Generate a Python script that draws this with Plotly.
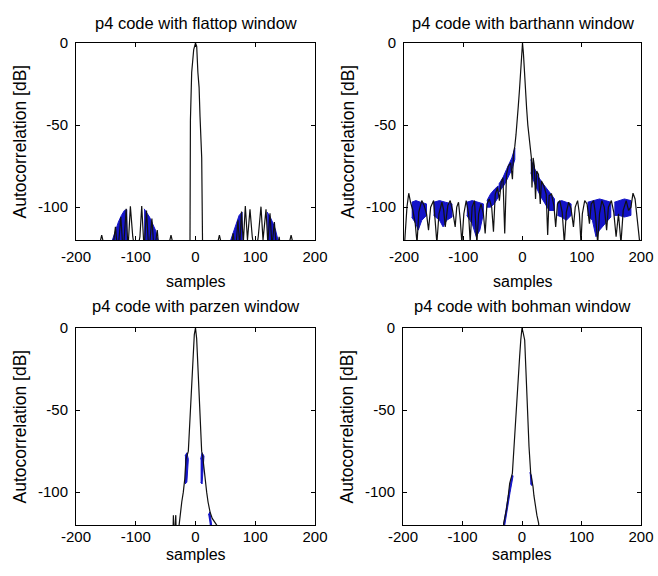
import plotly.graph_objects as go

# ---------------- data ----------------
titles = ["p4 code with flattop window", "p4 code with barthann window",
          "p4 code with parzen window", "p4 code with bohman window"]
x_tick_vals = [-200, -100, 0, 100, 200]
x_tick_text = ["-200", "-100", "0", "100", "200"]
y_tick_vals = [-100, -50, 0]
y_tick_text = ["-100", "-50", "0"]
x_label = "samples"
y_label = "Autocorrelation [dB]"

# flattop
flattop_black_x = [-200, -162, -157, -152, -140, -134, -130, -125, -121, -116, -113, -109, -105, -102, -99.6,
                   -97, -93, -90, -86, -82, -78, -73, -69, -64, -60, -46, -41, -36, -11, -9.2, -8.5, -6.4,
                   -3, 0, 2, 4, 6, 7.6, 9, 10.4, 12, 35, 40, 45, 58, 63, 67, 71, 74, 77, 80, 83.4, 87, 91.2,
                   95, 100, 105, 109.6, 113, 118, 121, 124.7, 128, 132, 136, 140, 144, 155, 160, 165, 200]
flattop_black_y = [-130, -125, -117, -125, -130, -112, -128, -106, -128, -101, -126, -99.5, -118, -126, -130,
                   -126, -118, -99.3, -126, -102, -128, -107, -128, -114, -130, -125, -117, -125, -130, -120,
                   -47, -18, -4, 0, -2, -18, -27, -45, -62, -70, -130, -125, -117, -125, -130, -116, -128, -108,
                   -124, -102.7, -122, -99.3, -120, -101.3, -118, -130, -118, -99.7, -120, -101.3, -122, -103.7,
                   -124, -109, -128, -118, -130, -125, -117, -125, -130]
flattop_blue_x = [-139, -134, -129, -124, -119, -115, -115, -139, None,
                  -86, -82, -77, -72, -67, -63, -86, None,
                  59, 63, 68, 73, 78, 78, None,
                  120, 125, 130, 134, 138, 120]
flattop_blue_y = [-120, -114, -109, -105, -102, -101.5, -120, -120, None,
                  -101, -103, -106, -110, -114, -120, -120, None,
                  -120, -116, -110, -105, -103, -120, None,
                  -103, -106, -110, -114, -120, -120]

# barthann
barthann_black_x = [-200, -199, -195, -192, -189, -185, -181, -178, -175, -170, -166, -162, -158.6, -155, -150,
                    -147, -144.5, -141, -136, -133, -130.4, -126, -122, -118, -113.6, -111, -108, -105, -102.3,
                    -99, -95, -91, -88.3, -85, -81, -79, -77, -74, -70, -66, -63, -60, -56, -52, -49, -46, -42,
                    -39, -36, -33, -30, -27, -24, -20, -17, -15, -13, -11, -9, -7, -5, -3, -1.4, 0,
                    1.5, 3, 5, 7, 9, 11, 13, 15, 16, 18, 20, 22, 24, 27, 30, 32, 36, 40, 42.5, 45, 49, 53, 56,
                    59, 63, 67, 70.6, 74, 78, 82, 86, 89, 93, 96, 98.7, 101, 105, 109, 113, 116, 120, 123,
                    126.9, 130, 134, 138, 142, 145, 150, 154, 158, 162, 166.2, 170, 175, 179, 183, 186.5, 190,
                    194, 198, 200]
barthann_black_y = [-125, -122, -100, -91.5, -97, -102, -110, -122, -103, -96, -99, -104, -114, -100, -96,
                    -108, -122, -104, -97, -102, -112, -99, -96, -102, -112, -100, -97, -108, -122,
                    -104, -96, -104, -121, -100, -96, -110, -122, -104, -98, -104, -116, -98, -95, -100, -115,
                    -92, -88, -96, -85, -82, -116, -80, -75, -73, -83, -67, -63, -56, -49, -38, -28, -15, -3, 0,
                    -6, -18, -30, -40, -50, -57, -62, -70, -88, -70, -75, -95, -78, -80, -98, -84, -87, -92,
                    -117, -93, -92, -99, -112, -98, -96, -103, -122, -103, -97, -101, -112, -100, -96, -104,
                    -122, -104, -96, -98, -110, -98, -96, -104, -122, -104, -96, -100, -114, -100, -96, -103,
                    -118, -104, -122, -102, -96, -102, -100, -91.5, -95, -108, -122, -120]
barthann_blue_x = [-187, -180, -172, -162, -162, -170, -176, -180, -187, None,
                   -150, -140, -130, -119, -119, -128, -134, -140, -150, None,
                   -94, -85, -75, -66, -66, -72, -78, -85, -94, None,
                   -60, -54, -47, -41, -41, -48, -54, -60, None,
                   -40, -33, -27, -22, -18, -13, -13, -18, -24, -30, -36, -40, None,
                   14, 20, 26, 33, 40, 48, 54, 54, 45, 38, 30, 22, 14, None,
                   59, 66, 74, 82, 82, 74, 66, 59, None,
                   110, 120, 130, 140, 149, 149, 140, 130, 124, 118, 110, None,
                   155, 163, 172, 183, 183, 172, 163, 155]
barthann_blue_y = [-97, -96, -97, -98, -105, -108, -114, -110, -106, None,
                   -97, -96, -97, -98, -106, -108, -112, -108, -105, None,
                   -97, -96, -97, -98, -104, -114, -118, -110, -105, None,
                   -96, -92, -89, -87, -94, -98, -100, -100, None,
                   -86, -82, -77, -73, -70, -64, -71, -77, -82, -86, -89, -91, None,
                   -71, -76, -81, -85, -88, -92, -95, -102, -102, -98, -93, -87, -79, None,
                   -97, -96, -97, -98, -105, -108, -106, -105, None,
                   -97, -96, -95, -96, -97, -106, -110, -114, -118, -108, -105, None,
                   -97, -96, -95, -96, -105, -106, -105, -105]

# parzen
parzen_black_x = [-200, -38, -37, -36, -33, -32, -29, -26, -23, -20.4, -18, -16, -14, -12, -11, -10, -9.2, -8,
                  -6.4, -5.5, -4.5, -3.6, -2, 0, 1.9, 3, 4.7, 6, 7.5, 9, 10.3, 12, 13.1, 15, 18.7, 21, 24.3,
                  28, 32, 35.4, 37, 38, 200]
parzen_black_y = [-130, -130, -114, -130, -114, -130, -125, -114, -106, -100, -92, -80, -78, -75, -68, -60, -55,
                  -48, -40.8, -30, -20, -10.4, -4, 0, -6.3, -15, -29, -42, -55, -65, -75, -78, -82, -90, -100,
                  -106, -112, -116, -118, -120, -125, -130, -130]
parzen_blue_x = [-17.6, -14.5, -12, -14.5, -17.6, None, 8.6, 11, 14.2, 11, 8.6, None, 21.5, 24, 27, 24]
parzen_blue_y = [-78, -76, -80, -94, -95, None, -80, -76, -78, -95, -94, None, -114, -112, -120, -120]

# bohman
bohman_black_x = [-200, -31, -30.8, -28, -26.3, -23, -20.7, -18, -16.2, -13.4, -11.5, -9.6, -7, -4, -2, 0,
                  2, 4.5, 6.5, 9, 11.8, 14.6, 16.5, 18.5, 20, 22.4, 25, 28, 29, 200]
bohman_black_y = [-130, -130, -119, -115, -110.8, -102, -94.6, -91, -88.5, -72.3, -60, -47.9, -35, -17.5, -7, 0,
                  -3, -7.3, -25, -50, -72.3, -88.5, -92, -96.6, -102, -108.8, -114, -119, -130, -130]
bohman_blue_x = [-31, -27, -22, -17, -15, -20, -25, -29, None, 13, 16, 17, 14]
bohman_blue_y = [-120, -110, -100, -90, -90, -100, -110, -120, None, -88, -90, -96, -95]

# ---------------- figure ----------------
W, H = 658, 576
BLUE = "#1414c8"
BLACK = "#111111"
FONT = "Liberation Sans, Arial, sans-serif"

# plot-area boxes in pixels: (left, right, top, bottom)
boxes = [(76, 315, 43, 240), (404, 641, 43, 240), (76, 315, 328, 525), (403, 641, 328, 525)]

series = [
    (flattop_black_x, flattop_black_y, flattop_blue_x, flattop_blue_y),
    (barthann_black_x, barthann_black_y, barthann_blue_x, barthann_blue_y),
    (parzen_black_x, parzen_black_y, parzen_blue_x, parzen_blue_y),
    (bohman_black_x, bohman_black_y, bohman_blue_x, bohman_blue_y),
]

fig = go.Figure()
layout = dict(width=W, height=H, margin=dict(l=0, r=0, t=0, b=0, pad=0, autoexpand=False),
              paper_bgcolor="white", plot_bgcolor="white", showlegend=False,
              font=dict(family=FONT, color="black"))
annotations = []
title_y = [23, 23, 306, 306]
xlab_y = [282, 282, 554, 554]
xstand = [3, 3, -2, -2]

for i, (bx, by, ux, uy) in enumerate(series):
    n = "" if i == 0 else str(i + 1)
    l, r, t, b = boxes[i]
    fig.add_trace(go.Scatter(x=ux, y=uy, mode="lines", fill="toself", fillcolor=BLUE,
                             line=dict(color=BLUE, width=1), xaxis="x" + n, yaxis="y" + n,
                             hoverinfo="skip"))
    fig.add_trace(go.Scatter(x=bx, y=by, mode="lines", line=dict(color=BLACK, width=1.2),
                             xaxis="x" + n, yaxis="y" + n))
    common = dict(showline=True, linecolor="black", linewidth=1, mirror="allticks",
                  ticks="inside", ticklen=4, tickcolor="black", showgrid=False, zeroline=False,
                  automargin=False, tickfont=dict(family=FONT, size=15, color="black"))
    layout["xaxis" + n] = dict(domain=[l / W, r / W], range=[-200, 200], anchor="y" + n,
                               tickvals=x_tick_vals, ticktext=x_tick_text,
                               ticklabelstandoff=xstand[i], **common)
    layout["yaxis" + n] = dict(domain=[1 - b / H, 1 - t / H], range=[-120, 0], anchor="x" + n,
                               tickvals=y_tick_vals, ticktext=y_tick_text,
                               ticklabelstandoff=4, **common)
    cx = (l + r) / 2
    annotations.append(dict(text=titles[i], x=cx / W, y=1 - title_y[i] / H, xref="paper", yref="paper",
                            showarrow=False, xanchor="center", yanchor="middle",
                            font=dict(family=FONT, size=16.5, color="black")))
    annotations.append(dict(text=x_label, x=cx / W, y=1 - xlab_y[i] / H, xref="paper", yref="paper",
                            showarrow=False, xanchor="center", yanchor="middle",
                            font=dict(family=FONT, size=16, color="black")))
    annotations.append(dict(text=y_label, x=(l - 57) / W, y=1 - ((t + b) / 2) / H, xref="paper",
                            yref="paper", showarrow=False, xanchor="center", yanchor="middle",
                            textangle=-90, font=dict(family=FONT, size=17.5, color="black")))

layout["annotations"] = annotations
fig.update_layout(**layout)
fig.write_html("out.html", config={"displayModeBar": False},
               post_script="document.body.style.margin='0px';document.body.style.overflow='hidden';")
